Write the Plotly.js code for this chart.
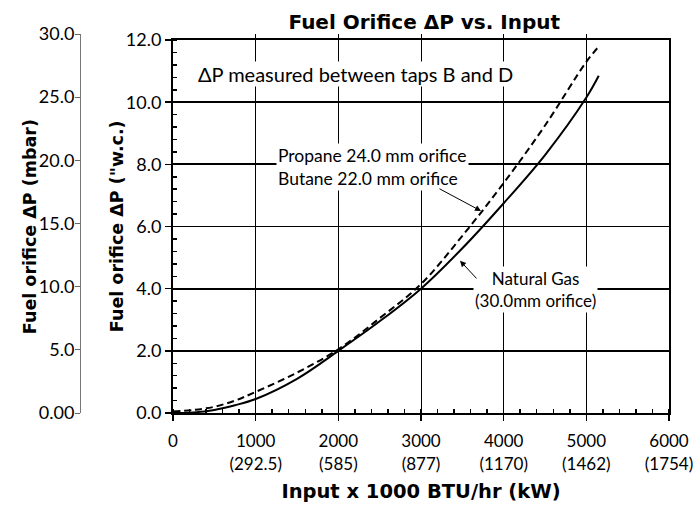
<!DOCTYPE html>
<html>
<head>
<meta charset="utf-8">
<script src="https://cdn.plot.ly/plotly-3.0.1.min.js"></script>
<style>html,body{margin:0;padding:0;background:#fff;}#chart{width:699px;height:510px;}</style>
</head>
<body>
<div id="chart"></div>
<script>
// Input x 1000 BTU/hr
const ngInput = [0, 250, 500, 750, 1000, 1500, 2000, 2500, 3000, 3500, 4000, 4500, 5000, 5150];
// Natural Gas (30.0 mm orifice) ΔP, "w.c.
const ngDP = [0.0, 0.02, 0.1, 0.25, 0.45, 1.1, 2.0, 2.95, 4.0, 5.3, 6.75, 8.3, 10.15, 10.85];
const lpInput = [0, 250, 500, 750, 1000, 1500, 2000, 2500, 3000, 3500, 4000, 4500, 5000, 5160];
// Propane 24.0 mm / Butane 22.0 mm orifice ΔP, "w.c.
const lpDP = [0.05, 0.1, 0.2, 0.4, 0.68, 1.3, 2.05, 3.05, 4.15, 5.7, 7.4, 9.25, 11.3, 11.82];

const xTickVals = [0, 1000, 2000, 3000, 4000, 5000, 6000];
const xTickText = ['0', '1000<br>(292.5)', '2000<br>(585)', '3000<br>(877)', '4000<br>(1170)', '5000<br>(1462)', '6000<br>(1754)'];
const yTickVals = [0, 2, 4, 6, 8, 10, 12];
const yTickText = ['0.0', '2.0', '4.0', '6.0', '8.0', '10.0', '12.0'];
const mbarTickVals = [0, 5, 10, 15, 20, 25, 30];
const mbarTickText = ['0.00', '5.0', '10.0', '15.0', '20.0', '25.0', '30.0'];

const FONT = 'Lato, "Open Sans", "DejaVu Sans", sans-serif';
const BOLD = '"DejaVu Sans", Lato, sans-serif';

const traces = [
  {x: lpInput, y: lpDP, type: 'scatter', mode: 'lines', line: {color: '#000', width: 2, dash: '7px,4px', shape: 'spline'}, hoverinfo: 'skip', showlegend: false},
  {x: ngInput, y: ngDP, type: 'scatter', mode: 'lines', line: {color: '#000', width: 2, shape: 'spline'}, hoverinfo: 'skip', showlegend: false},
  {x: [], y: [], yaxis: 'y2', type: 'scatter', mode: 'lines', hoverinfo: 'skip', showlegend: false}
];

const layout = {
  width: 699, height: 510,
  margin: {l: 75, r: 30, t: 34, b: 97},
  paper_bgcolor: '#fff', plot_bgcolor: 'rgba(0,0,0,0)',
  font: {family: FONT, color: '#000', size: 17},
  title: {text: '<b>Fuel Orifice ΔP vs. Input</b>', font: {size: 20, family: BOLD}, x: 0.607, xanchor: 'center', y: 0.957, yanchor: 'middle'},
  xaxis: {
    domain: [0.165, 1], range: [0, 6000],
    tickvals: xTickVals, ticktext: xTickText,
    ticks: 'outside', ticklen: 6, tickwidth: 1.5, tickcolor: '#000',
    ticklabelstandoff: 6,
    minor: {dtick: 200, ticks: 'inside', ticklen: 4, tickcolor: '#000', showgrid: false},
    showgrid: true, gridcolor: '#000', gridwidth: 1,
    showline: true, linecolor: '#000', linewidth: 2, mirror: true,
    zeroline: false,
    tickfont: {size: 17},
    title: {text: '<b>Input x 1000 BTU/hr (kW)</b>', font: {size: 19.5, family: BOLD}, standoff: 12}
  },
  yaxis: {
    domain: [0, 0.984], range: [0, 12],
    tickvals: yTickVals, ticktext: yTickText,
    ticks: 'outside', ticklen: 6, tickwidth: 1.5, tickcolor: '#000',
    minor: {dtick: 0.4, ticks: 'inside', ticklen: 4, tickcolor: '#000', showgrid: false},
    showgrid: true, gridcolor: '#000', gridwidth: 1.8,
    showline: true, linecolor: '#000', linewidth: 2, mirror: true,
    zeroline: false,
    tickfont: {size: 18}
  },
  yaxis2: {
    anchor: 'free', position: 0.0084, side: 'left',
    domain: [0, 1], range: [0, 30],
    tickvals: mbarTickVals, ticktext: mbarTickText,
    ticks: 'outside', ticklen: 5, tickcolor: '#666',
    ticklabelstandoff: -3,
    showline: true, linecolor: '#777', linewidth: 1,
    showgrid: false, zeroline: false,
    tickfont: {size: 18}
  },
  annotations: [
    {x: -0.0758, y: 0.493, xref: 'paper', yref: 'paper', text: '<b>Fuel orifice ΔP (mbar)</b>', textangle: -90, showarrow: false, xanchor: 'center', yanchor: 'middle', font: {size: 17.5, family: BOLD}},
    {x: 0.0707, y: 0.493, xref: 'paper', yref: 'paper', text: '<b>Fuel orifice ΔP ("w.c.)</b>', textangle: -90, showarrow: false, xanchor: 'center', yanchor: 'middle', font: {size: 17.5, family: BOLD}},
    {x: 290, y: 10.9, xref: 'x', yref: 'y', text: 'ΔP measured between taps B and D', showarrow: false, xanchor: 'left', yanchor: 'middle', bgcolor: '#fff', borderpad: 0, font: {size: 20}},
    {x: 1240, y: 7.9, xref: 'x', yref: 'y', text: 'Propane 24.0 mm orifice<br>Butane 22.0 mm orifice', showarrow: false, xanchor: 'left', yanchor: 'middle', align: 'left', bgcolor: '#fff', borderpad: 1, font: {size: 17.5}},
    {x: 3726, y: 6.5, ax: 3206, ay: 7.24, xref: 'x', yref: 'y', axref: 'x', ayref: 'y', text: '', showarrow: true, arrowhead: 2, arrowsize: 1.2, arrowwidth: 1, arrowcolor: '#000'},
    {x: 4379, y: 3.97, xref: 'x', yref: 'y', text: 'Natural Gas<br>(30.0mm orifice)', showarrow: false, xanchor: 'center', yanchor: 'middle', align: 'center', bgcolor: '#fff', borderpad: 1, font: {size: 17}},
    {x: 3472, y: 4.9, ax: 3689, ay: 4.28, xref: 'x', yref: 'y', axref: 'x', ayref: 'y', text: '', showarrow: true, arrowhead: 2, arrowsize: 1.2, arrowwidth: 1, arrowcolor: '#000'}
  ]
};

Plotly.newPlot('chart', traces, layout, {displayModeBar: false, staticPlot: true});
</script>
</body>
</html>
